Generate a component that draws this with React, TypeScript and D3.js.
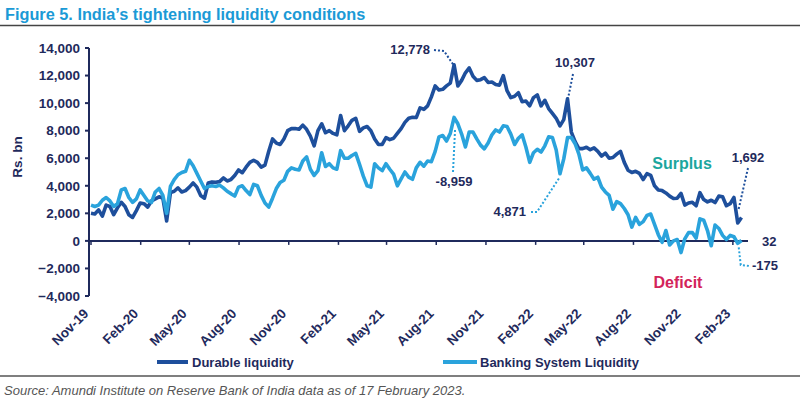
import React from "react";
import * as d3 from "d3";

// ---------- DATA ----------
const dates = [
  "2019-11-01","2019-11-08","2019-11-15","2019-11-22","2019-11-29","2019-12-06","2019-12-13","2019-12-20","2019-12-27",
  "2020-01-03","2020-01-10","2020-01-17","2020-01-24","2020-01-31","2020-02-07","2020-02-14","2020-02-21","2020-02-28",
  "2020-03-06","2020-03-13","2020-03-20","2020-03-27","2020-04-03","2020-04-10","2020-04-17","2020-04-24",
  "2020-05-01","2020-05-08","2020-05-15","2020-05-22","2020-05-29","2020-06-05","2020-06-12","2020-06-19","2020-06-26",
  "2020-07-03","2020-07-10","2020-07-17","2020-07-24","2020-07-31","2020-08-07","2020-08-14","2020-08-21","2020-08-28",
  "2020-09-04","2020-09-11","2020-09-18","2020-09-25","2020-10-02","2020-10-09","2020-10-16","2020-10-23","2020-10-30",
  "2020-11-06","2020-11-13","2020-11-20","2020-11-27","2020-12-04","2020-12-11","2020-12-18","2020-12-25",
  "2021-01-01","2021-01-08","2021-01-15","2021-01-22","2021-01-29","2021-02-05","2021-02-12","2021-02-19","2021-02-26",
  "2021-03-05","2021-03-12","2021-03-19","2021-03-26","2021-04-02","2021-04-09","2021-04-16","2021-04-23","2021-04-30",
  "2021-05-07","2021-05-14","2021-05-21","2021-05-28","2021-06-04","2021-06-11","2021-06-18","2021-06-25",
  "2021-07-02","2021-07-09","2021-07-16","2021-07-23","2021-07-30","2021-08-06","2021-08-13","2021-08-20","2021-08-27",
  "2021-09-03","2021-09-10","2021-09-17","2021-09-24","2021-10-01","2021-10-08","2021-10-15","2021-10-22","2021-10-29",
  "2021-11-05","2021-11-12","2021-11-19","2021-11-26","2021-12-03","2021-12-10","2021-12-17","2021-12-24","2021-12-31",
  "2022-01-07","2022-01-14","2022-01-21","2022-01-28","2022-02-04","2022-02-11","2022-02-18","2022-02-25",
  "2022-03-04","2022-03-11","2022-03-18","2022-03-25","2022-04-01","2022-04-08","2022-04-15","2022-04-22","2022-04-29",
  "2022-05-06","2022-05-13","2022-05-20","2022-05-27","2022-06-03","2022-06-10","2022-06-17","2022-06-24",
  "2022-07-01","2022-07-08","2022-07-15","2022-07-22","2022-07-29","2022-08-05","2022-08-12","2022-08-19","2022-08-26",
  "2022-09-02","2022-09-09","2022-09-16","2022-09-23","2022-09-30","2022-10-07","2022-10-14","2022-10-21","2022-10-28",
  "2022-11-04","2022-11-11","2022-11-18","2022-11-25","2022-12-02","2022-12-09","2022-12-16","2022-12-23","2022-12-30",
  "2023-01-06","2023-01-13","2023-01-20","2023-01-27","2023-02-03","2023-02-10","2023-02-17"
];

const durableLiquidity = [
  2000, 1950, 2250, 1800, 2600, 2500, 1900, 2400, 2800, 2500,
  1900, 1700, 2200, 2750, 2700, 2450, 2900, 3050, 3200, 3100,
  1450, 3500, 3600, 3850, 3550, 3650, 3900, 4200, 3900, 3300,
  3100, 4200, 4280, 4250, 4300, 4570, 4350, 4450, 4750, 5150,
  4950, 5350, 5700, 5850, 5700, 5350, 5500, 6500, 7400, 7100,
  7000, 7400, 8000, 8150, 8150, 8100, 8400, 8100, 7600, 6900,
  8000, 8500, 7850, 8000, 7800, 7700, 9100, 8000, 8350, 8750,
  8900, 7950, 8200, 8300, 8000, 7400, 7000, 7000, 7500, 7350,
  7450, 7800, 8150, 8600, 8900, 8970, 8950, 9650, 9550, 9800,
  10450, 11250, 10950, 11000, 11250, 11450, 12778, 11250, 11650, 12200,
  12550, 11950, 11650, 11700, 11850, 11500, 11530, 11350, 11300, 12000,
  10900, 10400, 10500, 10750, 10100, 10150, 9800, 10400, 10600, 9800,
  10200, 9600, 9250, 8900, 8350, 8800, 10307, 7900, 7200, 6700,
  6700, 6800, 6620, 6750, 6500, 6150, 6370, 6000, 6050, 6300,
  6500, 5700, 5130, 4960, 5050, 4900, 4450, 4880, 4750, 4000,
  3700, 3650, 3480, 3250, 3080, 3100, 3450, 2600, 2750, 2800,
  2550, 3500, 3000, 2830, 2950, 2780, 3250, 3200, 2550, 2700,
  3150, 1300, 1692
];

const bankingSystemLiquidity = [
  2600, 2500, 2600, 2950, 3150, 2900, 2500, 2700, 3700, 3800,
  3150, 2800, 3050, 3700, 3300, 2900, 2800, 3550, 3800, 3300,
  2000, 3950, 4450, 4800, 4960, 5050, 5850, 5450, 4900, 4350,
  3800, 3950, 4000, 3950, 4050, 3850, 3600, 3430, 3250, 3900,
  4000, 3650, 3360, 4100, 4000, 3300, 2750, 2450, 3100, 3800,
  4240, 4400, 5050, 5300, 5200, 5150, 5800, 6100, 5200, 4750,
  5100, 6400, 5400, 5600, 5300, 5200, 6550, 6000, 6000, 6200,
  6350, 5550, 4700, 4000, 3900, 5600, 5300, 5100, 5600, 5200,
  4850, 4000, 4500, 5000, 4630, 4470, 5300, 5700, 5420, 5800,
  5750, 6500, 7550, 7650, 7250, 7800, 8959, 8500, 7750, 6820,
  7900, 7900, 7400, 6950, 6680, 7100, 7700, 8050, 7900, 8350,
  8300, 7750, 7000, 7450, 7700, 6800, 5700, 6400, 6650, 6450,
  6900, 7550, 7500, 6600, 4871, 5950, 7500, 7500, 7050, 6300,
  5150, 5300, 4900, 4480, 4620, 3900, 3550, 3300, 2300, 2850,
  2700, 2350, 1900, 1000, 1700, 1200, 1400, 1850, 1950, 1200,
  450, -100, 750, -300, 0, 100, -850, 150, 600, 600,
  200, 1600, 1500, 750, -350, 1150, 900, 400, 100, 400,
  300, -175, 32
];

const xTickDates = [
  "2019-11-01","2020-02-01","2020-05-01","2020-08-01","2020-11-01","2021-02-01","2021-05-01",
  "2021-08-01","2021-11-01","2022-02-01","2022-05-01","2022-08-01","2022-11-01","2023-02-01"
];
const xTickLabels = [
  "Nov-19","Feb-20","May-20","Aug-20","Nov-20","Feb-21","May-21",
  "Aug-21","Nov-21","Feb-22","May-22","Aug-22","Nov-22","Feb-23"
];
const yTicks = [-4000, -2000, 0, 2000, 4000, 6000, 8000, 10000, 12000, 14000];

// ---------- STYLE ----------
const W = 800, H = 413;
const FONT = "'Liberation Sans', Arial, Helvetica, sans-serif";
const NAVY = "#1f2a5c";
const DARK = "#1e4f9c";
const LIGHT = "#2aa3dc";
const TITLE = "#1b9ad6";
const SURPLUS = "#1ba69e";
const DEFICIT = "#d3245a";

export default function App() {
  const parsed = dates.map((d) => new Date(d + "T00:00:00Z"));
  const x = d3.scaleUtc()
    .domain([new Date("2019-11-01T00:00:00Z"), new Date("2023-03-01T00:00:00Z")])
    .range([91, 748]);
  const y = d3.scaleLinear().domain([-4000, 14000]).range([296, 48]);
  const fmt = d3.format(",");

  const line = d3.line<number>()
    .x((_, i) => x(parsed[i]))
    .y((v) => y(v));

  const idxDurPeak = durableLiquidity.indexOf(12778);
  const idxDurSpike = durableLiquidity.indexOf(10307);
  const idxBankPeak = bankingSystemLiquidity.indexOf(8959);
  const idxBankDip = bankingSystemLiquidity.indexOf(4871);
  const nLast = dates.length - 1;
  const idxNeg = bankingSystemLiquidity.indexOf(-175);

  const px = (i: number) => x(parsed[i]);

  const dot = { strokeDasharray: "2,2", strokeWidth: 2, fill: "none" } as const;
  const lbl = { fontFamily: FONT, fontWeight: 700, fontSize: 13, fill: NAVY } as const;

  return (
    <svg width={W} height={H} style={{ position: "absolute", left: 0, top: 0, background: "#fff" }}>
      {/* Title */}
      <text x={5} y={20} fontFamily={FONT} fontWeight={700} fontSize={16.3} fill={TITLE}>
        Figure 5. India’s tightening liquidity conditions
      </text>
      <line x1={0} x2={W} y1={25.5} y2={25.5} stroke="#444" strokeWidth={1.5} />

      {/* Y axis */}
      <line x1={89} x2={89} y1={y(14000)} y2={y(-4000)} stroke={NAVY} strokeWidth={2} />
      {yTicks.map((t) => (
        <g key={t}>
          <line x1={85} x2={89} y1={y(t)} y2={y(t)} stroke={NAVY} strokeWidth={2} />
          <text x={80} y={y(t)} dy="0.35em" textAnchor="end" {...lbl} fontSize={13.5}>
            {fmt(t)}
          </text>
        </g>
      ))}
      <text
        transform={`translate(22,${157}) rotate(-90)`}
        textAnchor="middle"
        {...lbl}
        fontSize={13.5}
      >
        Rs. bn
      </text>

      {/* Zero line and x ticks */}
      <line x1={89} x2={748} y1={y(0)} y2={y(0)} stroke={NAVY} strokeWidth={2} />
      {xTickDates.map((d, i) => {
        const tx = x(new Date(d + "T00:00:00Z"));
        return (
          <g key={d}>
            <line x1={tx} x2={tx} y1={y(0)} y2={y(0) + 4} stroke={NAVY} strokeWidth={1.5} />
            <text
              transform={`translate(${tx - 5},${311}) rotate(-45)`}
              textAnchor="end"
              dy="0.35em"
              {...lbl}
              fontSize={13.5}
            >
              {xTickLabels[i]}
            </text>
          </g>
        );
      })}

      {/* Series */}
      <path d={line(durableLiquidity) || ""} fill="none" stroke={DARK} strokeWidth={3.6} strokeLinejoin="round" />
      <path d={line(bankingSystemLiquidity) || ""} fill="none" stroke={LIGHT} strokeWidth={3.6} strokeLinejoin="round" />

      {/* Annotations */}
      <text x={430} y={54} textAnchor="end" {...lbl}>12,778</text>
      <polyline
        points={`434,50 444,51 ${px(idxDurPeak)},${y(12778) + 1}`}
        stroke={DARK}
        {...dot}
      />
      <text x={575} y={67} textAnchor="middle" {...lbl}>10,307</text>
      <polyline
        points={`573,74 ${px(idxDurSpike)},${y(10307) + 2}`}
        stroke={DARK}
        {...dot}
      />
      <text x={454} y={186} textAnchor="middle" {...lbl}>-8,959</text>
      <polyline
        points={`453,172 ${px(idxBankPeak) + 1},${y(8959) + 12}`}
        stroke={LIGHT}
        {...dot}
      />
      <text x={526} y={216} textAnchor="end" {...lbl}>4,871</text>
      <polyline
        points={`531,212 537,212 ${px(idxBankDip)},${y(4871) + 3}`}
        stroke={LIGHT}
        {...dot}
      />
      <text x={682} y={169} textAnchor="middle" fontFamily={FONT} fontWeight={700} fontSize={16} fill={SURPLUS}>
        Surplus
      </text>
      <text x={748} y={162} textAnchor="middle" {...lbl}>1,692</text>
      <polyline
        points={`748,168 ${px(nLast) - 3},${y(1692) - 8}`}
        stroke={DARK}
        {...dot}
      />
      <text x={762} y={246} {...lbl}>32</text>
      <text x={752} y={270} {...lbl}>-175</text>
      <polyline
        points={`${px(idxNeg) + 1},${y(-175) + 4} ${px(idxNeg) + 3},265 750,266`}
        stroke={LIGHT}
        {...dot}
      />
      <text x={678} y={288} textAnchor="middle" fontFamily={FONT} fontWeight={700} fontSize={16} fill={DEFICIT}>
        Deficit
      </text>

      {/* Legend */}
      <line x1={157} x2={188} y1={362} y2={362} stroke={DARK} strokeWidth={4} />
      <text x={192} y={362} dy="0.35em" {...lbl}>Durable liquidity</text>
      <line x1={443} x2={477} y1={362} y2={362} stroke={LIGHT} strokeWidth={4} />
      <text x={480} y={362} dy="0.35em" {...lbl}>Banking System Liquidity</text>

      {/* Source */}
      <line x1={0} x2={W} y1={376} y2={376} stroke="#555" strokeWidth={1.5} />
      <text x={4} y={395} fontFamily={FONT} fontStyle="italic" fontSize={13} fill="#555">
        Source: Amundi Institute on Reserve Bank of India data as of 17 February 2023.
      </text>
    </svg>
  );
}
